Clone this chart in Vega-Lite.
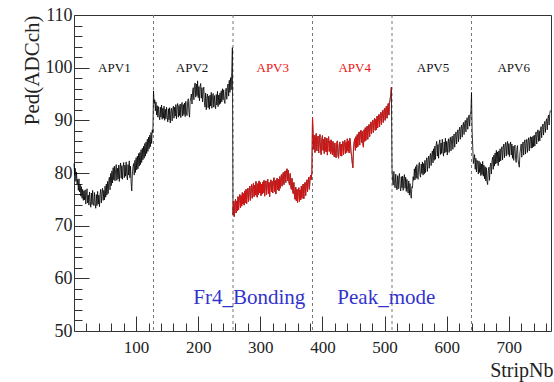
{
  "$schema": "https://vega.github.io/schema/vega-lite/v6.json",
  "width": 477,
  "height": 316,
  "autosize": {"type": "none"},
  "padding": {"left": 74, "top": 15, "right": 3, "bottom": 51},
  "background": "white",
  "config": {
    "font": "Liberation Serif",
    "view": {"stroke": "#333333", "strokeWidth": 1},
    "axis": {"domain": false, "grid": false, "labelFont": "Liberation Serif", "titleFont": "Liberation Serif", "labelColor": "#222222", "titleColor": "#222222", "tickColor": "#333333", "titleFontWeight": "normal", "labelOverlap": false, "labelFlush": false}
  },
  "datasets": {
    "bounds": [{"s": 128}, {"s": 256}, {"s": 384}, {"s": 512}, {"s": 640}],
    "chips": [
      {"s": 65, "p": 100, "t": "APV1"}, {"s": 190, "p": 100, "t": "APV2"}, {"s": 320, "p": 100, "t": "APV3"},
      {"s": 452, "p": 100, "t": "APV4"}, {"s": 578, "p": 100, "t": "APV5"}, {"s": 708, "p": 100, "t": "APV6"}
    ],
    "notes": [{"s": 192, "p": 56.3, "t": "Fr4_Bonding"}, {"s": 424, "p": 56.3, "t": "Peak_mode"}],
    "ped": [
{"s":0,"p":81.8},{"s":1,"p":79.6},{"s":2,"p":80.9},{"s":3,"p":78.4},{"s":4,"p":80.2},{"s":5,"p":77.9},{"s":6,"p":78.8},{"s":7,"p":76.7},{"s":8,"p":78.9},{"s":9,"p":76.4},{"s":10,"p":77.8},{"s":11,"p":75.6},{"s":12,"p":77.4},{"s":13,"p":75.2},{"s":14,"p":76.9},{"s":15,"p":74.8},
{"s":16,"p":76.6},{"s":17,"p":74.9},{"s":18,"p":76.8},{"s":19,"p":74.1},{"s":20,"p":75.9},{"s":21,"p":77.0},{"s":22,"p":74.3},{"s":23,"p":75.8},{"s":24,"p":73.9},{"s":25,"p":76.4},{"s":26,"p":74.6},{"s":27,"p":73.5},{"s":28,"p":76.2},{"s":29,"p":74.0},{"s":30,"p":76.7},{"s":31,"p":74.4},
{"s":32,"p":73.8},{"s":33,"p":76.3},{"s":34,"p":74.2},{"s":35,"p":73.3},{"s":36,"p":75.9},{"s":37,"p":73.8},{"s":38,"p":76.5},{"s":39,"p":74.1},{"s":40,"p":75.8},{"s":41,"p":73.6},{"s":42,"p":76.0},{"s":43,"p":76.9},{"s":44,"p":74.3},{"s":45,"p":76.2},{"s":46,"p":77.1},{"s":47,"p":74.8},
{"s":48,"p":76.7},{"s":49,"p":74.9},{"s":50,"p":77.5},{"s":51,"p":75.4},{"s":52,"p":77.9},{"s":53,"p":75.8},{"s":54,"p":78.4},{"s":55,"p":76.1},{"s":56,"p":78.6},{"s":57,"p":79.2},{"s":58,"p":76.8},{"s":59,"p":79.9},{"s":60,"p":77.6},{"s":61,"p":80.4},{"s":62,"p":78.1},{"s":63,"p":81.0},
{"s":64,"p":78.7},{"s":65,"p":81.3},{"s":66,"p":78.5},{"s":67,"p":80.6},{"s":68,"p":81.6},{"s":69,"p":78.6},{"s":70,"p":80.9},{"s":71,"p":78.9},{"s":72,"p":81.5},{"s":73,"p":78.4},{"s":74,"p":81.0},{"s":75,"p":81.9},{"s":76,"p":79.0},{"s":77,"p":81.4},{"s":78,"p":78.8},{"s":79,"p":81.2},
{"s":80,"p":82.0},{"s":81,"p":79.1},{"s":82,"p":81.5},{"s":83,"p":79.4},{"s":84,"p":82.1},{"s":85,"p":79.5},{"s":86,"p":78.7},{"s":87,"p":81.6},{"s":88,"p":79.6},{"s":89,"p":82.3},{"s":90,"p":79.1},{"s":91,"p":81.3},{"s":92,"p":78.1},{"s":93,"p":76.6},{"s":94,"p":79.8},{"s":95,"p":81.2},
{"s":96,"p":81.8},{"s":97,"p":79.6},{"s":98,"p":82.4},{"s":99,"p":80.1},{"s":100,"p":82.9},{"s":101,"p":80.6},{"s":102,"p":83.2},{"s":103,"p":80.8},{"s":104,"p":83.7},{"s":105,"p":81.3},{"s":106,"p":83.9},{"s":107,"p":81.6},{"s":108,"p":84.4},{"s":109,"p":82.0},{"s":110,"p":84.7},{"s":111,"p":82.5},
{"s":112,"p":85.1},{"s":113,"p":82.8},{"s":114,"p":85.6},{"s":115,"p":83.2},{"s":116,"p":85.9},{"s":117,"p":83.7},{"s":118,"p":86.4},{"s":119,"p":84.1},{"s":120,"p":86.8},{"s":121,"p":84.6},{"s":122,"p":87.2},{"s":123,"p":85.0},{"s":124,"p":87.7},{"s":125,"p":85.6},{"s":126,"p":88.2},{"s":127,"p":87.6},
{"s":128,"p":95.6},{"s":129,"p":93.2},{"s":130,"p":93.9},{"s":131,"p":91.8},{"s":132,"p":93.5},{"s":133,"p":91.0},{"s":134,"p":92.8},{"s":135,"p":90.6},{"s":136,"p":92.6},{"s":137,"p":91.0},{"s":138,"p":90.1},{"s":139,"p":92.5},{"s":140,"p":90.6},{"s":141,"p":92.9},{"s":142,"p":90.2},{"s":143,"p":92.3},
{"s":144,"p":90.4},{"s":145,"p":92.7},{"s":146,"p":90.0},{"s":147,"p":92.1},{"s":148,"p":90.3},{"s":149,"p":92.5},{"s":150,"p":90.6},{"s":151,"p":89.7},{"s":152,"p":92.2},{"s":153,"p":90.1},{"s":154,"p":92.4},{"s":155,"p":89.5},{"s":156,"p":91.7},{"s":157,"p":92.3},{"s":158,"p":89.9},{"s":159,"p":92.0},
{"s":160,"p":92.7},{"s":161,"p":90.4},{"s":162,"p":92.5},{"s":163,"p":90.8},{"s":164,"p":93.0},{"s":165,"p":90.3},{"s":166,"p":92.6},{"s":167,"p":93.2},{"s":168,"p":90.6},{"s":169,"p":92.8},{"s":170,"p":90.9},{"s":171,"p":93.1},{"s":172,"p":90.5},{"s":173,"p":92.7},{"s":174,"p":93.4},{"s":175,"p":90.8},
{"s":176,"p":93.0},{"s":177,"p":91.1},{"s":178,"p":93.3},{"s":179,"p":90.7},{"s":180,"p":93.6},{"s":181,"p":91.4},{"s":182,"p":90.9},{"s":183,"p":93.5},{"s":184,"p":94.1},{"s":185,"p":91.5},{"s":186,"p":90.6},{"s":187,"p":93.6},{"s":188,"p":94.3},{"s":189,"p":95.0},{"s":190,"p":93.1},{"s":191,"p":95.6},
{"s":192,"p":96.2},{"s":193,"p":93.9},{"s":194,"p":96.6},{"s":195,"p":97.1},{"s":196,"p":94.4},{"s":197,"p":96.9},{"s":198,"p":94.7},{"s":199,"p":97.5},{"s":200,"p":94.3},{"s":201,"p":96.4},{"s":202,"p":93.7},{"s":203,"p":96.5},{"s":204,"p":97.0},{"s":205,"p":94.2},{"s":206,"p":96.2},{"s":207,"p":93.5},
{"s":208,"p":95.6},{"s":209,"p":96.3},{"s":210,"p":93.3},{"s":211,"p":92.5},{"s":212,"p":95.2},{"s":213,"p":92.0},{"s":214,"p":94.3},{"s":215,"p":95.0},{"s":216,"p":92.4},{"s":217,"p":94.6},{"s":218,"p":92.1},{"s":219,"p":94.8},{"s":220,"p":92.7},{"s":221,"p":95.3},{"s":222,"p":92.3},{"s":223,"p":94.5},
{"s":224,"p":95.1},{"s":225,"p":92.5},{"s":226,"p":94.7},{"s":227,"p":92.8},{"s":228,"p":92.2},{"s":229,"p":94.9},{"s":230,"p":92.9},{"s":231,"p":95.5},{"s":232,"p":92.6},{"s":233,"p":94.8},{"s":234,"p":93.0},{"s":235,"p":95.2},{"s":236,"p":93.2},{"s":237,"p":95.6},{"s":238,"p":93.5},{"s":239,"p":96.0},
{"s":240,"p":93.9},{"s":241,"p":95.8},{"s":242,"p":93.7},{"s":243,"p":93.2},{"s":244,"p":95.5},{"s":245,"p":96.1},{"s":246,"p":94.0},{"s":247,"p":96.3},{"s":248,"p":96.9},{"s":249,"p":94.6},{"s":250,"p":97.6},{"s":251,"p":95.3},{"s":252,"p":98.1},{"s":253,"p":95.8},{"s":254,"p":99.0},{"s":255,"p":103.8},
{"s":256,"p":72.1},{"s":257,"p":74.6},{"s":258,"p":71.7},{"s":259,"p":74.3},{"s":260,"p":75.0},{"s":261,"p":72.4},{"s":262,"p":74.7},{"s":263,"p":72.8},{"s":264,"p":75.5},{"s":265,"p":73.0},{"s":266,"p":75.2},{"s":267,"p":75.9},{"s":268,"p":73.4},{"s":269,"p":75.7},{"s":270,"p":73.7},{"s":271,"p":76.3},
{"s":272,"p":74.1},{"s":273,"p":76.1},{"s":274,"p":73.9},{"s":275,"p":76.6},{"s":276,"p":74.4},{"s":277,"p":76.9},{"s":278,"p":74.2},{"s":279,"p":76.4},{"s":280,"p":77.1},{"s":281,"p":74.6},{"s":282,"p":76.7},{"s":283,"p":77.5},{"s":284,"p":74.8},{"s":285,"p":77.0},{"s":286,"p":77.8},{"s":287,"p":75.2},
{"s":288,"p":77.3},{"s":289,"p":78.1},{"s":290,"p":75.5},{"s":291,"p":77.7},{"s":292,"p":75.8},{"s":293,"p":78.4},{"s":294,"p":76.1},{"s":295,"p":75.4},{"s":296,"p":78.0},{"s":297,"p":75.9},{"s":298,"p":78.5},{"s":299,"p":76.2},{"s":300,"p":78.2},{"s":301,"p":75.7},{"s":302,"p":77.9},{"s":303,"p":76.0},
{"s":304,"p":78.3},{"s":305,"p":76.2},{"s":306,"p":78.6},{"s":307,"p":75.6},{"s":308,"p":77.8},{"s":309,"p":78.5},{"s":310,"p":75.9},{"s":311,"p":78.1},{"s":312,"p":78.8},{"s":313,"p":76.1},{"s":314,"p":78.2},{"s":315,"p":75.5},{"s":316,"p":78.0},{"s":317,"p":78.7},{"s":318,"p":76.4},{"s":319,"p":78.4},
{"s":320,"p":76.2},{"s":321,"p":78.5},{"s":322,"p":79.1},{"s":323,"p":76.5},{"s":324,"p":78.6},{"s":325,"p":76.0},{"s":326,"p":78.3},{"s":327,"p":79.0},{"s":328,"p":76.8},{"s":329,"p":78.8},{"s":330,"p":76.6},{"s":331,"p":79.3},{"s":332,"p":77.1},{"s":333,"p":79.1},{"s":334,"p":79.7},{"s":335,"p":77.5},
{"s":336,"p":79.5},{"s":337,"p":80.1},{"s":338,"p":77.8},{"s":339,"p":79.8},{"s":340,"p":80.4},{"s":341,"p":78.2},{"s":342,"p":80.2},{"s":343,"p":80.8},{"s":344,"p":78.5},{"s":345,"p":80.5},{"s":346,"p":78.3},{"s":347,"p":77.7},{"s":348,"p":79.9},{"s":349,"p":77.4},{"s":350,"p":76.9},{"s":351,"p":79.0},
{"s":352,"p":76.7},{"s":353,"p":76.1},{"s":354,"p":78.2},{"s":355,"p":75.6},{"s":356,"p":75.0},{"s":357,"p":77.3},{"s":358,"p":74.7},{"s":359,"p":76.9},{"s":360,"p":74.4},{"s":361,"p":76.6},{"s":362,"p":77.2},{"s":363,"p":74.6},{"s":364,"p":76.8},{"s":365,"p":74.9},{"s":366,"p":77.5},{"s":367,"p":75.2},
{"s":368,"p":77.2},{"s":369,"p":77.9},{"s":370,"p":75.1},{"s":371,"p":77.4},{"s":372,"p":78.2},{"s":373,"p":75.7},{"s":374,"p":78.0},{"s":375,"p":78.7},{"s":376,"p":76.4},{"s":377,"p":78.5},{"s":378,"p":79.2},{"s":379,"p":76.9},{"s":380,"p":78.9},{"s":381,"p":79.6},{"s":382,"p":78.7},{"s":383,"p":80.2},
{"s":384,"p":90.6},{"s":385,"p":87.5},{"s":386,"p":84.5},{"s":387,"p":87.2},{"s":388,"p":83.9},{"s":389,"p":86.6},{"s":390,"p":87.5},{"s":391,"p":84.2},{"s":392,"p":86.4},{"s":393,"p":87.0},{"s":394,"p":83.8},{"s":395,"p":86.1},{"s":396,"p":87.3},{"s":397,"p":84.4},{"s":398,"p":83.5},{"s":399,"p":86.5},
{"s":400,"p":87.1},{"s":401,"p":84.3},{"s":402,"p":86.4},{"s":403,"p":83.7},{"s":404,"p":86.8},{"s":405,"p":84.6},{"s":406,"p":84.0},{"s":407,"p":86.6},{"s":408,"p":83.4},{"s":409,"p":86.2},{"s":410,"p":86.9},{"s":411,"p":84.1},{"s":412,"p":86.1},{"s":413,"p":83.6},{"s":414,"p":86.3},{"s":415,"p":84.2},
{"s":416,"p":83.5},{"s":417,"p":86.0},{"s":418,"p":83.9},{"s":419,"p":83.1},{"s":420,"p":85.7},{"s":421,"p":83.7},{"s":422,"p":82.9},{"s":423,"p":85.6},{"s":424,"p":86.1},{"s":425,"p":83.4},{"s":426,"p":82.8},{"s":427,"p":85.4},{"s":428,"p":85.9},{"s":429,"p":83.3},{"s":430,"p":85.5},{"s":431,"p":83.2},
{"s":432,"p":85.3},{"s":433,"p":86.0},{"s":434,"p":83.5},{"s":435,"p":85.6},{"s":436,"p":86.2},{"s":437,"p":83.7},{"s":438,"p":85.8},{"s":439,"p":83.9},{"s":440,"p":86.5},{"s":441,"p":84.2},{"s":442,"p":86.1},{"s":443,"p":83.8},{"s":444,"p":86.6},{"s":445,"p":85.9},{"s":446,"p":84.0},{"s":447,"p":83.2},
{"s":448,"p":81.9},{"s":449,"p":81.0},{"s":450,"p":84.6},{"s":451,"p":85.8},{"s":452,"p":86.5},{"s":453,"p":84.3},{"s":454,"p":86.9},{"s":455,"p":84.8},{"s":456,"p":87.3},{"s":457,"p":85.0},{"s":458,"p":87.0},{"s":459,"p":87.8},{"s":460,"p":85.3},{"s":461,"p":87.5},{"s":462,"p":88.1},{"s":463,"p":85.8},
{"s":464,"p":87.9},{"s":465,"p":85.6},{"s":466,"p":84.9},{"s":467,"p":88.2},{"s":468,"p":86.0},{"s":469,"p":88.6},{"s":470,"p":86.2},{"s":471,"p":88.3},{"s":472,"p":88.9},{"s":473,"p":86.4},{"s":474,"p":88.5},{"s":475,"p":89.2},{"s":476,"p":86.9},{"s":477,"p":89.0},{"s":478,"p":89.7},{"s":479,"p":87.4},
{"s":480,"p":89.4},{"s":481,"p":90.0},{"s":482,"p":87.7},{"s":483,"p":89.8},{"s":484,"p":90.4},{"s":485,"p":88.1},{"s":486,"p":90.2},{"s":487,"p":88.2},{"s":488,"p":90.8},{"s":489,"p":88.6},{"s":490,"p":90.6},{"s":491,"p":91.1},{"s":492,"p":88.8},{"s":493,"p":90.9},{"s":494,"p":91.5},{"s":495,"p":89.2},
{"s":496,"p":91.3},{"s":497,"p":91.9},{"s":498,"p":89.6},{"s":499,"p":91.7},{"s":500,"p":92.3},{"s":501,"p":90.0},{"s":502,"p":92.1},{"s":503,"p":92.7},{"s":504,"p":90.4},{"s":505,"p":92.5},{"s":506,"p":93.2},{"s":507,"p":91.0},{"s":508,"p":93.3},{"s":509,"p":94.0},{"s":510,"p":94.9},{"s":511,"p":96.3},
{"s":512,"p":80.8},{"s":513,"p":78.5},{"s":514,"p":77.7},{"s":515,"p":80.3},{"s":516,"p":78.0},{"s":517,"p":77.2},{"s":518,"p":79.8},{"s":519,"p":77.6},{"s":520,"p":76.8},{"s":521,"p":79.5},{"s":522,"p":77.0},{"s":523,"p":79.2},{"s":524,"p":79.9},{"s":525,"p":77.3},{"s":526,"p":76.6},{"s":527,"p":79.3},
{"s":528,"p":77.2},{"s":529,"p":79.4},{"s":530,"p":76.7},{"s":531,"p":79.0},{"s":532,"p":79.7},{"s":533,"p":77.1},{"s":534,"p":79.2},{"s":535,"p":76.5},{"s":536,"p":78.8},{"s":537,"p":76.9},{"s":538,"p":76.2},{"s":539,"p":78.5},{"s":540,"p":75.8},{"s":541,"p":78.0},{"s":542,"p":76.1},{"s":543,"p":75.2},
{"s":544,"p":77.4},{"s":545,"p":77.2},{"s":546,"p":79.3},{"s":547,"p":78.6},{"s":548,"p":80.8},{"s":549,"p":78.7},{"s":550,"p":81.2},{"s":551,"p":79.0},{"s":552,"p":81.6},{"s":553,"p":79.5},{"s":554,"p":78.8},{"s":555,"p":81.4},{"s":556,"p":82.0},{"s":557,"p":79.7},{"s":558,"p":79.2},{"s":559,"p":81.7},
{"s":560,"p":79.9},{"s":561,"p":82.1},{"s":562,"p":79.6},{"s":563,"p":81.8},{"s":564,"p":79.8},{"s":565,"p":82.4},{"s":566,"p":80.1},{"s":567,"p":82.2},{"s":568,"p":82.9},{"s":569,"p":80.3},{"s":570,"p":82.5},{"s":571,"p":83.2},{"s":572,"p":80.9},{"s":573,"p":83.0},{"s":574,"p":83.7},{"s":575,"p":81.4},
{"s":576,"p":83.5},{"s":577,"p":84.2},{"s":578,"p":81.9},{"s":579,"p":84.6},{"s":580,"p":82.4},{"s":581,"p":85.1},{"s":582,"p":82.6},{"s":583,"p":85.3},{"s":584,"p":86.0},{"s":585,"p":83.2},{"s":586,"p":85.4},{"s":587,"p":82.8},{"s":588,"p":85.6},{"s":589,"p":86.3},{"s":590,"p":83.5},{"s":591,"p":85.7},
{"s":592,"p":83.7},{"s":593,"p":86.4},{"s":594,"p":84.1},{"s":595,"p":83.2},{"s":596,"p":85.9},{"s":597,"p":83.8},{"s":598,"p":86.6},{"s":599,"p":84.0},{"s":600,"p":86.0},{"s":601,"p":83.4},{"s":602,"p":85.7},{"s":603,"p":86.5},{"s":604,"p":83.9},{"s":605,"p":86.1},{"s":606,"p":86.8},{"s":607,"p":84.2},
{"s":608,"p":86.4},{"s":609,"p":87.0},{"s":610,"p":84.5},{"s":611,"p":86.7},{"s":612,"p":87.4},{"s":613,"p":84.9},{"s":614,"p":87.1},{"s":615,"p":87.8},{"s":616,"p":85.5},{"s":617,"p":87.6},{"s":618,"p":88.2},{"s":619,"p":85.9},{"s":620,"p":88.0},{"s":621,"p":88.7},{"s":622,"p":86.4},{"s":623,"p":88.5},
{"s":624,"p":89.1},{"s":625,"p":86.8},{"s":626,"p":88.9},{"s":627,"p":89.6},{"s":628,"p":87.3},{"s":629,"p":89.4},{"s":630,"p":90.0},{"s":631,"p":87.8},{"s":632,"p":89.9},{"s":633,"p":90.5},{"s":634,"p":88.3},{"s":635,"p":90.4},{"s":636,"p":91.0},{"s":637,"p":88.9},{"s":638,"p":91.1},{"s":639,"p":91.7},
{"s":640,"p":95.3},{"s":641,"p":88.0},{"s":642,"p":84.9},{"s":643,"p":81.8},{"s":644,"p":82.6},{"s":645,"p":83.5},{"s":646,"p":80.7},{"s":647,"p":82.8},{"s":648,"p":80.2},{"s":649,"p":82.4},{"s":650,"p":81.9},{"s":651,"p":79.8},{"s":652,"p":82.3},{"s":653,"p":80.1},{"s":654,"p":82.0},{"s":655,"p":79.5},
{"s":656,"p":81.7},{"s":657,"p":79.7},{"s":658,"p":82.2},{"s":659,"p":79.4},{"s":660,"p":81.5},{"s":661,"p":78.9},{"s":662,"p":81.2},{"s":663,"p":78.5},{"s":664,"p":81.0},{"s":665,"p":78.3},{"s":666,"p":77.8},{"s":667,"p":80.4},{"s":668,"p":81.1},{"s":669,"p":78.6},{"s":670,"p":81.3},{"s":671,"p":81.9},
{"s":672,"p":79.8},{"s":673,"p":82.3},{"s":674,"p":83.0},{"s":675,"p":80.7},{"s":676,"p":83.4},{"s":677,"p":81.3},{"s":678,"p":83.8},{"s":679,"p":81.7},{"s":680,"p":84.3},{"s":681,"p":81.9},{"s":682,"p":84.0},{"s":683,"p":81.4},{"s":684,"p":84.2},{"s":685,"p":82.1},{"s":686,"p":84.6},{"s":687,"p":82.3},
{"s":688,"p":84.4},{"s":689,"p":85.0},{"s":690,"p":82.5},{"s":691,"p":84.7},{"s":692,"p":85.5},{"s":693,"p":82.9},{"s":694,"p":85.2},{"s":695,"p":85.8},{"s":696,"p":83.2},{"s":697,"p":85.4},{"s":698,"p":86.0},{"s":699,"p":83.5},{"s":700,"p":85.6},{"s":701,"p":83.1},{"s":702,"p":85.3},{"s":703,"p":85.9},
{"s":704,"p":83.4},{"s":705,"p":85.5},{"s":706,"p":82.8},{"s":707,"p":85.1},{"s":708,"p":82.4},{"s":709,"p":84.6},{"s":710,"p":85.3},{"s":711,"p":82.6},{"s":712,"p":82.0},{"s":713,"p":84.5},{"s":714,"p":85.2},{"s":715,"p":82.5},{"s":716,"p":81.7},{"s":717,"p":81.1},{"s":718,"p":83.8},{"s":719,"p":84.7},
{"s":720,"p":85.5},{"s":721,"p":83.0},{"s":722,"p":85.2},{"s":723,"p":85.9},{"s":724,"p":83.4},{"s":725,"p":85.6},{"s":726,"p":86.3},{"s":727,"p":83.6},{"s":728,"p":85.7},{"s":729,"p":86.4},{"s":730,"p":83.9},{"s":731,"p":86.0},{"s":732,"p":86.7},{"s":733,"p":84.2},{"s":734,"p":86.3},{"s":735,"p":86.9},
{"s":736,"p":84.7},{"s":737,"p":86.8},{"s":738,"p":84.8},{"s":739,"p":87.0},{"s":740,"p":85.0},{"s":741,"p":87.2},{"s":742,"p":85.1},{"s":743,"p":87.3},{"s":744,"p":87.8},{"s":745,"p":85.5},{"s":746,"p":87.6},{"s":747,"p":88.2},{"s":748,"p":86.0},{"s":749,"p":88.0},{"s":750,"p":86.1},{"s":751,"p":88.3},
{"s":752,"p":88.8},{"s":753,"p":86.7},{"s":754,"p":88.7},{"s":755,"p":89.3},{"s":756,"p":87.2},{"s":757,"p":89.2},{"s":758,"p":89.8},{"s":759,"p":87.7},{"s":760,"p":89.7},{"s":761,"p":90.3},{"s":762,"p":88.2},{"s":763,"p":90.4},{"s":764,"p":91.0},{"s":765,"p":89.1},{"s":766,"p":91.3},{"s":767,"p":91.9}
    ]
  },
  "resolve": {"axis": {"x": "independent", "y": "independent"}},
  "layer": [
    {
      "data": {"name": "bounds"},
      "mark": {"type": "rule", "color": "#777777", "strokeWidth": 1, "strokeDash": [3, 3]},
      "encoding": {
        "x": {"field": "s", "type": "quantitative", "axis": null, "scale": {"domain": [0, 768], "nice": false, "zero": false}}
      }
    },
    {
      "data": {"name": "ped"},
      "mark": {"type": "line", "color": "#000000", "strokeWidth": 0.8},
      "encoding": {
        "x": {
          "field": "s", "type": "quantitative", "title": "StripNb",
          "scale": {"domain": [0, 768], "nice": false, "zero": false},
          "axis": {
            "orient": "bottom",
            "values": [100, 200, 300, 400, 500, 600, 700],
            "tickSize": -15,
            "labelPadding": 23,
            "labelFontSize": 17,
            "titleFontSize": 20,
            "titleAlign": "right",
            "titleAnchor": "end",
            "titleBaseline": "alphabetic",
            "titleX": 479,
            "titleY": 45
          }
        },
        "y": {
          "field": "p", "type": "quantitative", "title": "Ped(ADCch)",
          "scale": {"domain": [50, 110], "nice": false, "zero": false},
          "axis": {
            "orient": "left",
            "values": [50, 60, 70, 80, 90, 100, 110],
            "tickSize": -15,
            "labelPadding": 17,
            "labelFontSize": 18,
            "titleFontSize": 21,
            "titleAngle": -90,
            "titleAlign": "right",
            "titleAnchor": "end",
            "titleBaseline": "middle",
            "titleX": -42,
            "titleY": 0
          }
        }
      }
    },
    {
      "data": {"name": "ped"},
      "transform": [{"filter": {"field": "s", "range": [256, 511]}}],
      "mark": {"type": "line", "color": "#ff1010", "strokeWidth": 0.7},
      "encoding": {
        "x": {
          "field": "s", "type": "quantitative",
          "axis": {
            "orient": "bottom", "title": null, "labels": false, "tickSize": -8,
            "values": [20, 40, 60, 80, 120, 140, 160, 180, 220, 240, 260, 280, 320, 340, 360, 380, 420, 440, 460, 480, 520, 540, 560, 580, 620, 640, 660, 680, 720, 740, 760]
          }
        },
        "y": {
          "field": "p", "type": "quantitative",
          "axis": {
            "orient": "left", "title": null, "labels": false, "tickSize": -8,
            "values": [52, 54, 56, 58, 62, 64, 66, 68, 72, 74, 76, 78, 82, 84, 86, 88, 92, 94, 96, 98, 102, 104, 106, 108]
          }
        }
      }
    },
    {
      "data": {"name": "chips"},
      "mark": {"type": "text", "font": "Liberation Serif", "fontSize": 13, "align": "center", "baseline": "middle"},
      "encoding": {
        "x": {"field": "s", "type": "quantitative", "axis": null},
        "y": {"field": "p", "type": "quantitative", "axis": null},
        "text": {"field": "t"},
        "color": {"field": "t", "type": "nominal", "legend": null,
          "scale": {"domain": ["APV1", "APV2", "APV3", "APV4", "APV5", "APV6"], "range": ["#111111", "#111111", "#ee1111", "#ee1111", "#111111", "#111111"]}}
      }
    },
    {
      "data": {"name": "notes"},
      "mark": {"type": "text", "font": "Liberation Serif", "fontSize": 21, "align": "left", "baseline": "middle", "color": "#3333cc"},
      "encoding": {
        "x": {"field": "s", "type": "quantitative", "axis": null},
        "y": {"field": "p", "type": "quantitative", "axis": null},
        "text": {"field": "t"}
      }
    }
  ]
}
